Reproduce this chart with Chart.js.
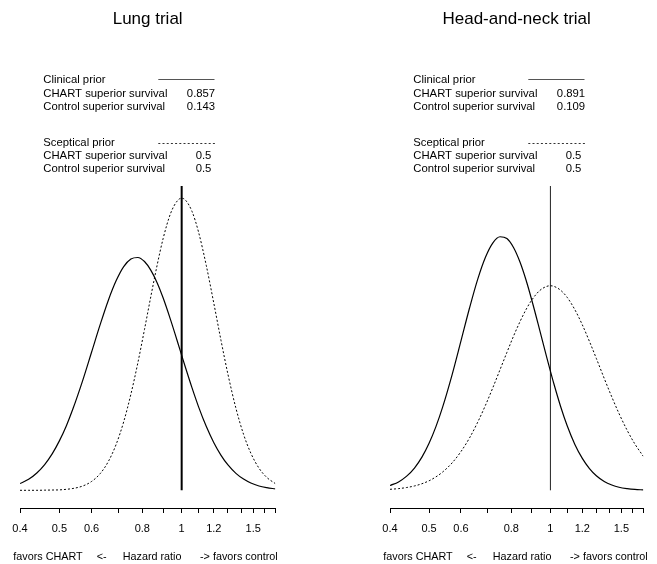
<!DOCTYPE html>
<html><head><meta charset="utf-8">
<script src="https://cdn.jsdelivr.net/npm/chart.js@4.4.1/dist/chart.umd.min.js"></script>
<style>
html,body{margin:0;padding:0;background:#fff;width:657px;height:564px;overflow:hidden}
#c1{position:absolute;left:0;top:0}
#c2{position:absolute;left:329px;top:0}
</style></head><body>
<canvas id="c1" width="329" height="564"></canvas>
<canvas id="c2" width="328" height="564"></canvas>
<script>
// Hazard ratio grid (x)
const hazardRatio = [0.40,0.42,0.44,0.46,0.48,0.50,0.52,0.54,0.57,0.60,0.63,0.66,0.69,0.72,0.75,0.78,0.81,0.84,0.87,0.90,0.94,0.98,1.00,1.02,1.06,1.10,1.15,1.20,1.25,1.30,1.36,1.42,1.48,1.55,1.62,1.70];
// Curve heights (density, arbitrary units)
const lungClinical  = [0.048,0.079,0.124,0.184,0.260,0.353,0.460,0.582,0.780,0.986,1.183,1.358,1.498,1.598,1.652,1.663,1.634,1.571,1.483,1.375,1.214,1.047,0.964,0.884,0.733,0.598,0.455,0.340,0.250,0.181,0.121,0.080,0.052,0.031,0.019,0.010];
const lungSceptical = [0.000,0.000,0.000,0.001,0.002,0.003,0.007,0.013,0.030,0.063,0.119,0.206,0.329,0.490,0.687,0.910,1.149,1.387,1.607,1.797,1.981,2.074,2.086,2.075,1.993,1.846,1.604,1.335,1.069,0.828,0.586,0.400,0.265,0.158,0.092,0.048];
const headClinical  = [0.034,0.060,0.101,0.159,0.237,0.336,0.455,0.592,0.823,1.067,1.302,1.507,1.665,1.768,1.811,1.798,1.734,1.632,1.502,1.354,1.148,0.946,0.851,0.761,0.599,0.463,0.328,0.228,0.155,0.104,0.063,0.038,0.022,0.012,0.006,0.003];
const headSceptical = [0.007,0.012,0.020,0.031,0.047,0.068,0.096,0.130,0.195,0.277,0.374,0.486,0.607,0.734,0.862,0.985,1.101,1.203,1.291,1.361,1.426,1.457,1.461,1.457,1.429,1.379,1.290,1.182,1.063,0.942,0.799,0.667,0.548,0.429,0.331,0.243];
// Axis ticks
const tickValues = [0.4,0.5,0.6,0.7,0.8,0.9,1.0,1.1,1.2,1.3,1.4,1.5,1.6,1.7];
const tickLabels = ['0.4','0.5','0.6','','0.8','','1','','1.2','','','1.5','',''];
// Texts
const panelTitles = ['Lung trial','Head-and-neck trial'];
const legendLabels = ['Clinical prior','CHART superior survival','Control superior survival','Sceptical prior','CHART superior survival','Control superior survival'];
const lungProbs = ['0.857','0.143','0.5','0.5'];
const headProbs = ['0.891','0.109','0.5','0.5'];
const axisTitleParts = ['favors CHART','<-','Hazard ratio','-> favors control'];
const nullHazard = 1;

const FONT = "'Liberation Sans', Arial, Helvetica, sans-serif";
const Y_MIN = -0.1264, Y_MAX = 2.1736;

function pts(arr){ return hazardRatio.map((x,i)=>({x:x, y:arr[i]})); }

function textPlugin(title, probs){
  return {
    id:'panelText',
    afterDraw(chart){
      const ctx = chart.ctx, ca = chart.chartArea, L = ca.left;
      ctx.save();
      ctx.fillStyle = '#000';
      // title
      ctx.font = '17px ' + FONT;
      ctx.textAlign = 'center'; ctx.textBaseline = 'alphabetic';
      ctx.fillText(title, (ca.left+ca.right)/2, 23.5);
      // legend
      ctx.font = '11.3px ' + FONT;
      ctx.textBaseline = 'middle';
      const rowsY = [80, 93.7, 107, 142.7, 156, 169.3];
      ctx.textAlign = 'left';
      legendLabels.forEach((t,i)=>ctx.fillText(t, L+23.3, rowsY[i]));
      ctx.textAlign = 'center';
      ctx.fillText(probs[0], L+181, rowsY[1]);
      ctx.fillText(probs[1], L+181, rowsY[2]);
      ctx.fillText(probs[2], L+183.5, rowsY[4]);
      ctx.fillText(probs[3], L+183.5, rowsY[5]);
      // legend line samples
      ctx.strokeStyle = '#555'; ctx.lineWidth = 1;
      ctx.beginPath(); ctx.moveTo(L+138.3, 79.5); ctx.lineTo(L+194.5, 79.5); ctx.stroke();
      ctx.setLineDash([2,2.2]); ctx.strokeStyle = '#333';
      ctx.beginPath(); ctx.moveTo(L+138.3, 143.5); ctx.lineTo(L+195.5, 143.5); ctx.stroke();
      ctx.setLineDash([]);
      // axis title
      ctx.font = '10.8px ' + FONT;
      ctx.textAlign = 'left'; ctx.textBaseline = 'middle';
      const offs = [-6.7, 76.7, 102.7, 180];
      axisTitleParts.forEach((t,i)=>ctx.fillText(t, L+offs[i], 557.5));
      ctx.restore();
    }
  };
}

function makeChart(id, title, clinical, sceptical, probs, padL, padR, vWidth, vColor){
  return new Chart(document.getElementById(id), {
    type:'line',
    data:{ datasets:[
      {data:pts(clinical), borderColor:'#000', borderWidth:1.2, pointRadius:0, cubicInterpolationMode:'monotone', fill:false},
      {data:pts(sceptical), borderColor:'#000', borderWidth:1, borderDash:[2,2], pointRadius:0, cubicInterpolationMode:'monotone', fill:false},
      {data:[{x:nullHazard,y:0},{x:nullHazard,y:Y_MAX}], borderColor:vColor, borderWidth:vWidth, pointRadius:0, fill:false}
    ]},
    options:{
      responsive:false, animation:false, devicePixelRatio:1,
      layout:{padding:{left:padL, right:padR, top:186, bottom:0}},
      plugins:{legend:{display:false}, tooltip:{enabled:false}, title:{display:false}},
      events:[],
      scales:{
        x:{
          type:'logarithmic', min:0.4, max:1.7,
          afterBuildTicks:(s)=>{ s.ticks = tickValues.map(v=>({value:v})); },
          afterFit:(s)=>{ s.height = 56; },
          ticks:{autoSkip:false, maxRotation:0, minRotation:0, padding:9, color:'#000',
            font:{family:FONT, size:11},
            callback:(v)=>{ const i = tickValues.findIndex(t=>Math.abs(t-v)<1e-9); return i>=0 ? tickLabels[i] : ''; }},
          grid:{display:true, drawOnChartArea:false, drawTicks:true, tickLength:5, color:'#000', lineWidth:1},
          border:{display:true, color:'#000', width:1}
        },
        y:{type:'linear', display:false, min:Y_MIN, max:Y_MAX}
      }
    },
    plugins:[textPlugin(title, probs)]
  });
}

makeChart('c1', panelTitles[0], lungClinical, lungSceptical, lungProbs, 20, 53.7, 2, '#000');
makeChart('c2', panelTitles[1], headClinical, headSceptical, headProbs, 61, 13.7, 1, '#222');
</script>
</body></html>
